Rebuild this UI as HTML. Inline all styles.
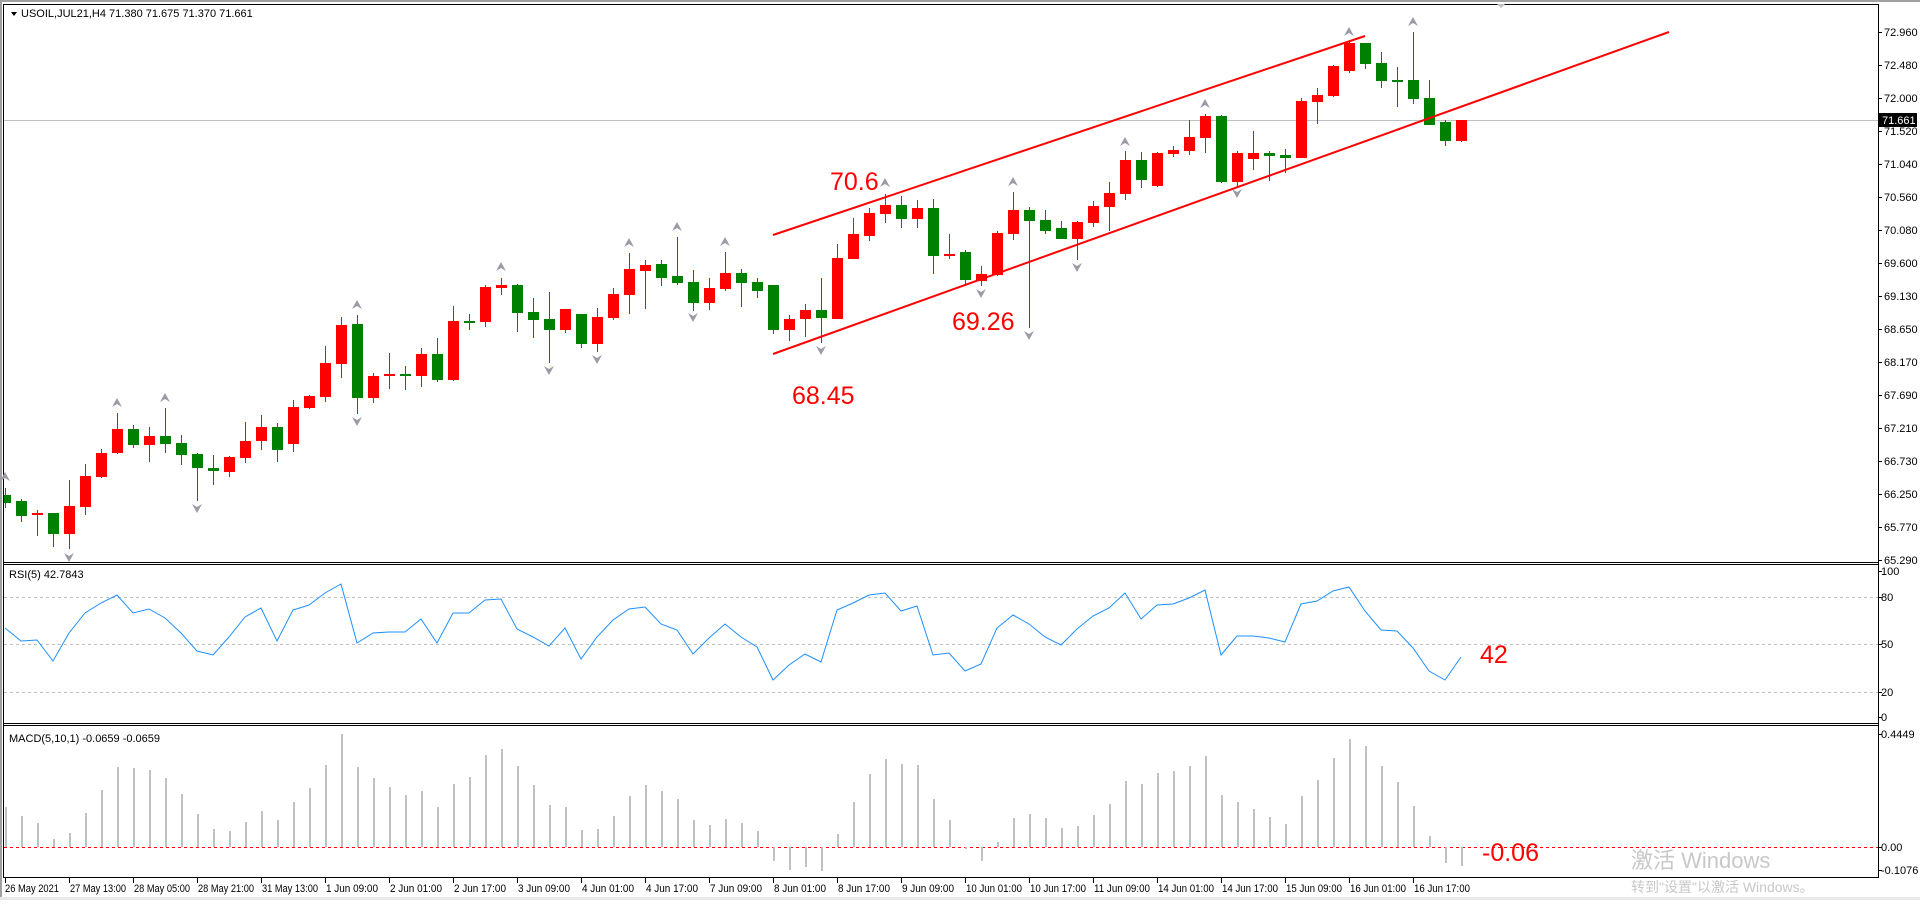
<!DOCTYPE html>
<html><head><meta charset="utf-8">
<style>
html,body{margin:0;padding:0;background:#fff;}
body{width:1920px;height:900px;overflow:hidden;}
svg text{font-family:"Liberation Sans","Noto Sans CJK SC",sans-serif;}
</style></head>
<body>
<svg id="s" width="1920" height="900" viewBox="0 0 1920 900" xmlns="http://www.w3.org/2000/svg">
<rect x="0" y="0" width="1920" height="900" fill="#fff"/>
<rect x="0" y="0" width="1920" height="2" fill="#a0a0a0"/>
<rect x="0" y="0" width="2" height="900" fill="#a0a0a0"/>
<rect x="0" y="897" width="1920" height="3" fill="#e8e8e8"/>
<g stroke="#000" stroke-width="1" fill="none" shape-rendering="crispEdges">
<line x1="3.5" y1="4.5" x2="1878.5" y2="4.5"/>
<line x1="3.5" y1="4" x2="3.5" y2="878"/>
<line x1="1878.5" y1="4" x2="1878.5" y2="878"/>
<line x1="3" y1="562.5" x2="1879" y2="562.5"/>
<line x1="3" y1="564.5" x2="1879" y2="564.5"/>
<line x1="3" y1="723.5" x2="1879" y2="723.5"/>
<line x1="3" y1="725.5" x2="1879" y2="725.5"/>
<line x1="3" y1="877.5" x2="1879" y2="877.5"/>
</g>
<line x1="4" y1="120.5" x2="1878" y2="120.5" stroke="#c0c0c0" stroke-width="1" shape-rendering="crispEdges"/>
<g stroke="#c0c0c0" stroke-dasharray="3,3" stroke-width="1" shape-rendering="crispEdges">
<line x1="4" y1="597.5" x2="1878" y2="597.5"/>
<line x1="4" y1="644.5" x2="1878" y2="644.5"/>
<line x1="4" y1="692.5" x2="1878" y2="692.5"/>
</g>
<line x1="4" y1="847.5" x2="1878" y2="847.5" stroke="#ff0000" stroke-dasharray="3,3" stroke-width="1" shape-rendering="crispEdges"/>
<g id="macd"></g>
<g id="candles"></g>
<polyline id="rsi" fill="none" stroke="#1e90ff" stroke-width="1"/>
<g id="arrows"></g>
<line x1="773" y1="235" x2="1365" y2="36" stroke="#ff0000" stroke-width="2"/>
<line x1="773" y1="354" x2="1669" y2="32" stroke="#ff0000" stroke-width="2"/>
<g fill="#ff0000" font-size="25">
<text x="830" y="190">70.6</text>
<text x="952" y="330">69.26</text>
<text x="792" y="404">68.45</text>
<text x="1480" y="663">42</text>
<text x="1482" y="861">-0.06</text>
</g>
<polygon points="11,12 17,12 14,16" fill="#000"/>
<text x="21" y="17" font-size="11" fill="#000">USOIL,JUL21,H4  71.380 71.675 71.370 71.661</text>
<text x="9" y="578" font-size="11" fill="#000">RSI(5) 42.7843</text>
<text x="9" y="742" font-size="11" fill="#000">MACD(5,10,1) -0.0659 -0.0659</text>
<g id="axis" font-size="11" fill="#000"></g>
<rect x="1879" y="113" width="38" height="14" fill="#000"/>
<text x="1882" y="124" font-size="11" fill="#fff">71.661</text>
<polygon points="1497,4 1505,4 1501,8" fill="#c0c0c0"/>
<g id="xaxis" font-size="11" fill="#000"></g>
<text x="1631" y="868" font-size="22" fill="#c8c8c8">激活 Windows</text>
<text x="1631" y="892" font-size="14" fill="#c8c8c8">转到"设置"以激活 Windows。</text>
</svg>
<script>
var NS="http://www.w3.org/2000/svg";
function el(t,a,p,txt){var e=document.createElementNS(NS,t);for(var k in a)e.setAttribute(k,a[k]);if(txt!=null)e.textContent=txt;p.appendChild(e);return e;}
var C=[
[495,503,488,508,'G'],[501,516,499,522,'G'],[513,515,510,536,'R'],[513,534,513,547,'G'],[506,534,480,549,'R'],
[476,507,464,515,'R'],[453,477,449,478,'R'],[429,453,413,454,'R'],[429,445,425,448,'G'],[436,445,427,462,'R'],
[436,444,408,453,'G'],[443,455,435,465,'G'],[454,468,453,501,'G'],[468,471,455,485,'G'],[457,472,456,477,'R'],
[441,458,422,463,'R'],[427,441,415,450,'R'],[427,450,423,462,'G'],[407,444,400,452,'R'],[396,408,395,409,'R'],
[363,397,346,402,'R'],[325,364,317,378,'R'],[324,398,315,414,'G'],[376,398,373,403,'R'],[374,376,353,389,'R'],
[374,376,366,390,'G'],[354,376,348,387,'R'],[354,380,338,382,'G'],[321,380,306,381,'R'],[321,323,314,330,'G'],
[287,322,285,327,'R'],[285,288,278,295,'R'],[285,313,284,332,'G'],[312,320,298,338,'G'],[319,330,292,363,'G'],
[309,330,309,333,'R'],[314,344,314,348,'G'],[317,344,308,352,'R'],[294,318,288,320,'R'],[269,295,253,314,'R'],
[265,271,260,309,'R'],[264,278,260,286,'G'],[276,283,237,285,'G'],[282,303,270,311,'G'],[288,303,278,310,'R'],
[273,289,252,291,'R'],[273,283,269,307,'G'],[282,291,278,298,'G'],[285,330,285,334,'G'],[319,330,315,341,'R'],
[310,319,304,337,'R'],[310,318,278,343,'G'],[258,319,244,319,'R'],[234,259,218,259,'R'],[213,236,208,241,'R'],
[205,214,194,223,'R'],[205,219,196,228,'G'],[208,219,200,228,'R'],[208,256,199,274,'G'],[254,256,234,259,'R'],
[252,280,250,286,'G'],[274,281,266,286,'R'],[233,275,231,276,'R'],[210,234,192,240,'R'],[210,221,207,328,'G'],
[220,231,210,234,'G'],[228,239,221,239,'G'],[222,239,221,260,'R'],[206,223,201,227,'R'],[193,207,182,231,'R'],
[160,194,151,200,'R'],[160,180,152,188,'G'],[153,186,152,187,'R'],[150,154,146,157,'R'],[137,151,120,155,'R'],
[116,138,114,153,'R'],[116,182,115,183,'G'],[153,182,151,187,'R'],[153,159,131,170,'R'],[153,156,151,181,'G'],
[155,158,149,173,'G'],[101,158,98,158,'R'],[95,102,88,124,'R'],[66,96,65,97,'R'],[43,71,41,73,'R'],
[43,64,43,69,'G'],[63,81,52,88,'G'],[80,81,67,107,'G'],[80,99,32,104,'G'],[98,125,80,125,'G'],
[122,141,120,146,'G'],[120,141,120,142,'R']];
var R=[628,641,640,661,633,613,603,595,613,609,618,633,651,655,637,617,608,641,610,605,593,584,643,633,632,632,619,643,613,613,600,599,
629,637,646,628,659,637,620,609,607,624,630,654,638,624,637,647,680,665,654,662,610,603,595,593,611,606,655,653,671,664,
628,615,624,637,645,629,616,608,593,619,605,604,598,590,655,636,636,638,642,604,601,591,587,611,630,631,648,671,680,657];
var M=[807,816,823,839,833,813,790,767,768,770,778,794,814,829,831,822,811,820,802,788,765,734,767,778,787,795,791,807,784,777,755,749,
766,785,805,807,830,829,816,796,785,791,799,820,825,819,823,831,861,870,867,871,834,802,774,759,764,765,799,820,849,861,
842,818,814,818,828,826,815,804,781,784,773,771,766,756,795,802,809,817,824,796,780,758,739,746,766,782,806,836,863,866];
function X(k){return 5+16*k;}
var cg=document.getElementById('candles'),mg=document.getElementById('macd');
C.forEach(function(c,k){var x=X(k),col=c[4]=='R'?'#ff0000':'#008000';
 el('rect',{x:x,y:c[2],width:1,height:Math.max(1,c[3]-c[2]),fill:col},cg);
 var bx=Math.max(4,x-5);var bw=x-5<4?x+6-4:11;
 el('rect',{x:bx,y:c[0],width:bw,height:Math.max(2,c[1]-c[0]),fill:col},cg);});
var pts=R.map(function(y,k){return X(k)+','+y;}).join(' ');
document.getElementById('rsi').setAttribute('points',pts);
M.forEach(function(y,k){var x=X(k);var t=Math.min(y,847),h=Math.abs(847-y);
 el('rect',{x:x,y:t,width:2,height:Math.max(1,h),fill:'#c0c0c0'},mg);});
var ag=document.getElementById('arrows');
var up=[[5,477],[117,403],[165,398],[357,305],[501,267],[629,243],[677,227],[725,242],[885,183],[1013,182],[1125,142],[1205,104],[1349,32],[1413,22]];
var dn=[[69,557],[197,508],[357,421],[549,370],[597,359],[693,317],[821,350],[981,293],[1029,335],[1077,267],[1237,193]];
up.forEach(function(p){el('polygon',{points:(p[0]-5)+','+(p[1]+4)+' '+p[0]+','+(p[1]-5)+' '+(p[0]+5)+','+(p[1]+4)+' '+p[0]+','+(p[1]+1),fill:'#9a9aa8'},ag);});
dn.forEach(function(p){el('polygon',{points:(p[0]-5)+','+(p[1]-4)+' '+p[0]+','+(p[1]+5)+' '+(p[0]+5)+','+(p[1]-4)+' '+p[0]+','+(p[1]-1),fill:'#9a9aa8'},ag);});
var ax=document.getElementById('axis');
var pl=['72.960','72.480','72.000','71.520','71.040','70.560','70.080','69.600','69.130','68.650','68.170','67.690','67.210','66.730','66.250','65.770','65.290'];
pl.forEach(function(t,i){var y=32+33*i;
 el('rect',{x:1879,y:y,width:3,height:1,fill:'#000'},ax);
 el('text',{x:1884,y:y+4},ax,t);});
[['100',571],['80',597],['50',644],['20',692],['0',717],['0.4449',734],['0.00',847],['-0.1076',870]].forEach(function(a){
 el('rect',{x:1879,y:a[1],width:3,height:1,fill:'#000'},ax);
 el('text',{x:1881,y:a[1]+4},ax,a[0]);});
var xg=document.getElementById('xaxis');
var xl=['26 May 2021','27 May 13:00','28 May 05:00','28 May 21:00','31 May 13:00','1 Jun 09:00','2 Jun 01:00','2 Jun 17:00','3 Jun 09:00','4 Jun 01:00','4 Jun 17:00','7 Jun 09:00','8 Jun 01:00','8 Jun 17:00','9 Jun 09:00','10 Jun 01:00','10 Jun 17:00','11 Jun 09:00','14 Jun 01:00','14 Jun 17:00','15 Jun 09:00','16 Jun 01:00','16 Jun 17:00'];
xl.forEach(function(t,i){var x=5+64*i;
 el('rect',{x:x,y:878,width:1,height:5,fill:'#000'},xg);
 var w=t.length>=12?56:(t.length==11?(i==0?54:52):48);
 el('text',{x:x+(i==0?0:1),y:892,textLength:w,lengthAdjust:'spacingAndGlyphs'},xg,t);});
</script>
</body></html>
